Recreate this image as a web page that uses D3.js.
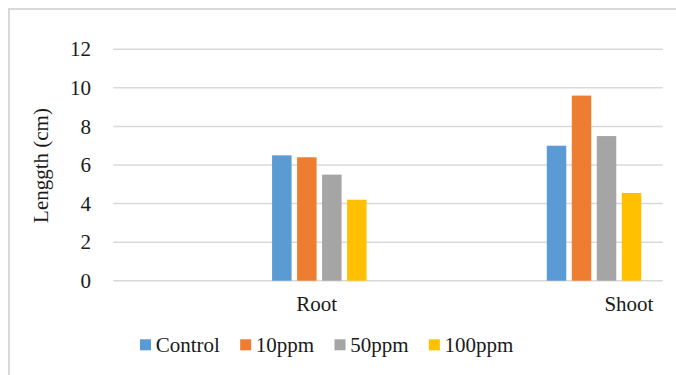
<!DOCTYPE html>
<html>
<head>
<meta charset="utf-8">
<script src="https://cdn.jsdelivr.net/npm/d3@7"></script>
</head>
<body style="margin:0">
<svg id="chart" width="676" height="375" font-family="Liberation Serif"></svg>
<script>
// Plant length by treatment
const categories = ["Root", "Shoot"];
const seriesNames = ["Control", "10ppm", "50ppm", "100ppm"];
const control = [6.5, 7.0];
const ppm10 = [6.4, 9.6];
const ppm50 = [5.5, 7.5];
const ppm100 = [4.2, 4.55];
const yTicks = [0, 2, 4, 6, 8, 10, 12];
const colors = ["#5b9bd5", "#ed7d31", "#a5a5a5", "#ffc000"];
const yTitle = "Lenggth (cm)";

const seriesValues = [control, ppm10, ppm50, ppm100];

const svg = d3.select("#chart");
const W = 676, H = 375;
const plot = { left: 113.3, right: 662.7, top: 49.3, bottom: 280.7 };
const fontSize = 21;
const font = "Liberation Serif";
const textColor = "#1a1a1a";

// apply the shared text style
const styled = sel => sel.attr("font-family", font).attr("font-size", fontSize).attr("fill", textColor);

// chart frame
svg.append("path")
  .attr("d", `M9,${H + 2} L9,9 L${W + 2},9`)
  .attr("fill", "none")
  .attr("stroke", "#d9d9d9")
  .attr("stroke-width", 2);

const y = d3.scaleLinear().domain([0, 12]).range([plot.bottom, plot.top]);
const x0 = d3.scaleBand().domain(categories).range([plot.left, plot.right]);
const groupWidth = 94.5;
const x1 = d3.scaleBand().domain(seriesNames).range([0, groupWidth]).paddingInner(0.22).paddingOuter(0);
// cluster sits in the right half of each category band
const groupLeft = c => x0(c) + x0.bandwidth() * 0.75 - groupWidth / 2;

// gridlines
svg.append("g")
  .selectAll("line")
  .data(yTicks)
  .join("line")
  .attr("x1", plot.left)
  .attr("x2", plot.right)
  .attr("y1", d => y(d))
  .attr("y2", d => y(d))
  .attr("stroke", "#d9d9d9")
  .attr("stroke-width", 1.5);

// y axis labels, drawn at the scale's tick positions
svg.append("g")
  .selectAll("text")
  .data(yTicks)
  .join("text")
  .attr("x", 91)
  .attr("y", d => y(d))
  .attr("dy", "0.34em")
  .attr("text-anchor", "end")
  .call(styled)
  .text(d => d);

// y title
svg.append("text")
  .attr("transform", `translate(48,${(108 + 223) / 2}) rotate(-90)`)
  .attr("text-anchor", "middle")
  .call(styled)
  .text(yTitle);

// bars
const groups = svg.append("g")
  .selectAll("g")
  .data(categories)
  .join("g")
  .attr("transform", c => `translate(${groupLeft(c)},0)`);

groups.selectAll("rect")
  .data((c, i) => seriesNames.map((s, j) => ({ s, j, v: seriesValues[j][i] })))
  .join("rect")
  .attr("x", d => x1(d.s))
  .attr("width", x1.bandwidth())
  .attr("y", d => y(d.v))
  .attr("height", d => y(0) - y(d.v))
  .attr("fill", d => colors[d.j]);

// category labels
const labelPos = { "Root": 0.74, "Shoot": 0.877 };
svg.append("g")
  .selectAll("text")
  .data(categories)
  .join("text")
  .attr("x", c => x0(c) + x0.bandwidth() * labelPos[c])
  .attr("y", 310.7)
  .attr("text-anchor", "middle")
  .call(styled)
  .text(c => c);

// legend
const legend = svg.append("g");
const swatch = 11, swatchGap = 15.7, itemGap = 20.3;
let lx = 140;
seriesNames.forEach((name, i) => {
  legend.append("rect")
    .attr("x", lx)
    .attr("y", 339.3)
    .attr("width", swatch)
    .attr("height", swatch)
    .attr("fill", colors[i]);
  const t = legend.append("text")
    .attr("x", lx + swatchGap)
    .attr("y", 351.7)
    .call(styled)
    .text(name);
  lx += swatchGap + t.node().getComputedTextLength() + itemGap;
});
</script>
</body>
</html>
